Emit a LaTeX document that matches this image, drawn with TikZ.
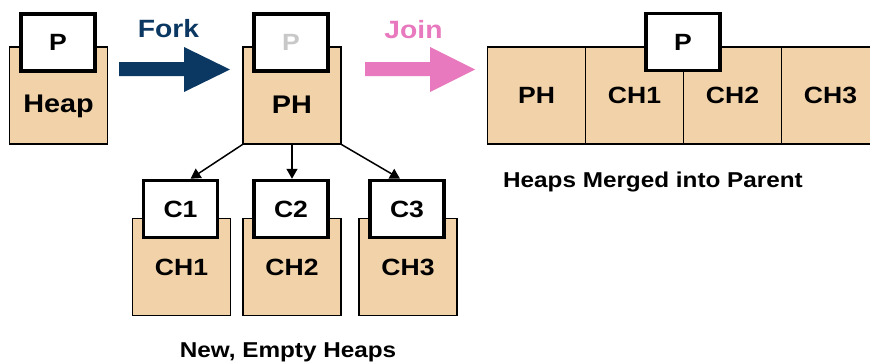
\documentclass[tikz,border=0pt]{standalone}
\usepackage{fontspec}
\setmainfont[FakeStretch=1.13]{Liberation Sans}
\usetikzlibrary{positioning,arrows.meta}

\definecolor{heaptan}{HTML}{F2D3A9}
\definecolor{forkblue}{HTML}{0B3862}
\definecolor{joinpink}{HTML}{E879BE}
\definecolor{ghostgray}{HTML}{C8C8C8}

\begin{document}
\begin{tikzpicture}
    [x=1pt,y=-1pt,
     heapbox/.style={draw, fill=heaptan, line width=1.1pt, inner sep=0pt,
       minimum width=98pt, minimum height=97pt,
       font=\fontsize{23.5}{26}\selectfont\bfseries, text height=16.8pt, text depth=0pt},
     procbox/.style={draw, fill=white, line width=3.5pt, inner sep=0pt,
       minimum width=74pt, minimum height=57pt,
       font=\fontsize{23.5}{26}\selectfont\bfseries, text height=16.8pt, text depth=0pt},
     lbl/.style={inner sep=0pt, font=\fontsize{25.5}{28}\selectfont\bfseries,
       text height=18.2pt, text depth=0pt},
     opname/.style={inner sep=0pt, font=\fontsize{25}{28}\selectfont\bfseries,
       text height=17.9pt, text depth=0pt},
     caption/.style={inner sep=0pt, font=\fontsize{21.5}{24}\selectfont\bfseries,
       text height=15.4pt, text depth=0pt},
     spawn/.style={-{Triangle[length=10pt,width=11pt]}, line width=1.5pt}]
  \clip (0,0) rectangle (870,362);

  % parent process with its heap
  \node[heapbox] (heap) at (58.5,95.5) {};
  \node[lbl] (heaptxt) at (58.5,103.5) {Heap};
  \node[procbox] (p) at (58,42.5) {P};

  % fork
  \fill[forkblue] (119,62) -- (184,62) -- (184,47) -- (230,69.5)
    -- (184,92) -- (184,76) -- (119,76) -- cycle;
  \node[opname, text=forkblue] (forktxt) at (168.5,29) {Fork};

  % parent heap after fork
  \node[heapbox] (ph) at (292,95.5) {};
  \node[lbl] (phtxt) at (292,104.5) {PH};
  \node[procbox, text=ghostgray] (pp) at (291,42.5) {P};

  % children and their heaps
  \foreach \i/\x in {1/181.5, 2/292, 3/408} {
    \node[heapbox] (ch\i) at (\x,267) {CH\i};
    \node[procbox] (c\i) at (\x-1,209) {C\i};
  }
  \draw[spawn] (ph.south west) -- ([xshift=10pt]c1.north);
  \draw[spawn] (ph.south) -- (ph.south |- c2.north);
  \draw[spawn] (ph.south east) -- ([xshift=-7pt]c3.north);
  \node[caption] (newcap) at (288,350) {New, Empty Heaps};

  % join
  \fill[joinpink] (365,62) -- (430,62) -- (430,47) -- (475,69.5)
    -- (430,92) -- (430,76) -- (365,76) -- cycle;
  \node[opname, text=joinpink] (jointxt) at (413.5,29.5) {Join};

  % merged heaps
  \foreach \lab [count=\i] in {PH,CH1,CH2,CH3}
    \node[heapbox] (m\i) at (438.5+98*\i,95.5) {\lab};
  \node[procbox] (mp) at (683,42) {P};
  \node[caption] (mergecap) at (653,179.5) {Heaps Merged into Parent};
\end{tikzpicture}
\end{document}
